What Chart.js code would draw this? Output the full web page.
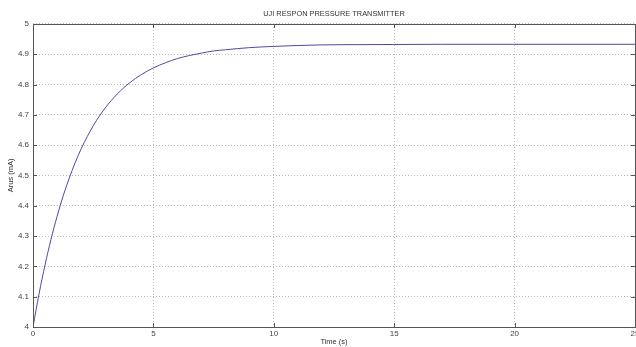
<!DOCTYPE html>
<html>
<head>
<meta charset="utf-8">
<script src="https://cdn.jsdelivr.net/npm/chart.js@4"></script>
<style>
  html, body { margin: 0; padding: 0; background: #fff; overflow: hidden; width: 636px; height: 347px; }
  #wrap { position: relative; width: 650px; height: 347px; }
</style>
</head>
<body>
<div id="wrap"><canvas id="c" width="650" height="347"></canvas></div>
<script>
const titleText = 'UJI RESPON PRESSURE TRANSMITTER';
const xTitle = 'Time (s)';
const yTitle = 'Arus (mA)';
const timeValues = [0, 0.25, 0.5, 0.75, 1, 1.25, 1.5, 1.75, 2, 2.5, 3, 3.5, 4, 4.5, 5, 5.5, 6, 6.5, 7, 7.5, 8, 9, 10, 11, 12, 14, 17, 25];
const currentValues = [4.000, 4.109, 4.205, 4.290, 4.365, 4.432, 4.490, 4.542, 4.588, 4.664, 4.723, 4.769, 4.805, 4.833, 4.855, 4.872, 4.886, 4.896, 4.904, 4.911, 4.915, 4.922, 4.926, 4.929, 4.931, 4.932, 4.933, 4.933];
const xTicks = [0, 5, 10, 15, 20, 25];
const yTicks = [4, 4.1, 4.2, 4.3, 4.4, 4.5, 4.6, 4.7, 4.8, 4.9, 5];

const points = timeValues.map((t, i) => ({ x: t, y: currentValues[i] }));

const framePlugin = {
  id: 'frame',
  afterLayout(chart) {
    const t = chart.titleBlock;
    if (t) {
      t.left = chart.chartArea.left;
      t.right = chart.chartArea.right;
      t.width = t.right - t.left;
    }
  },
  afterDraw(chart) {
    const { ctx, chartArea: a, scales } = chart;
    ctx.save();
    ctx.strokeStyle = '#555';
    ctx.lineWidth = 1;
    ctx.strokeRect(Math.round(a.left) + 0.5, Math.round(a.top) + 0.5, Math.round(a.right - a.left), Math.round(a.bottom - a.top));
    const len = 4;
    ctx.beginPath();
    xTicks.forEach(v => {
      const px = Math.round(scales.x.getPixelForValue(v)) + 0.5;
      ctx.moveTo(px, a.bottom); ctx.lineTo(px, a.bottom - len);
      ctx.moveTo(px, a.top); ctx.lineTo(px, a.top + len);
    });
    yTicks.forEach(v => {
      const py = Math.round(scales.y.getPixelForValue(v)) + 0.5;
      ctx.moveTo(a.left, py); ctx.lineTo(a.left + len, py);
      ctx.moveTo(a.right, py); ctx.lineTo(a.right - len, py);
    });
    ctx.stroke();
    ctx.restore();
  }
};

const fontFamily = 'Liberation Sans, Arial, sans-serif';

new Chart(document.getElementById('c'), {
  type: 'line',
  data: {
    datasets: [{
      data: points,
      borderColor: '#4b4ba3',
      borderWidth: 1,
      pointRadius: 0,
      fill: false,
      cubicInterpolationMode: 'monotone'
    }]
  },
  options: {
    responsive: false,
    animation: false,
    devicePixelRatio: 1,
    layout: { padding: { left: 0, right: 15, top: 0, bottom: 0 } },
    plugins: {
      legend: { display: false },
      tooltip: { enabled: false },
      title: {
        display: true,
        text: titleText,
        color: '#333',
        font: { family: fontFamily, size: 7.4, weight: 'normal' },
        padding: { top: 10, bottom: 5.1 }
      }
    },
    scales: {
      x: {
        type: 'linear',
        min: 0, max: 25,
        afterBuildTicks(s) { s.ticks = xTicks.map(v => ({ value: v })); },
        afterFit(s) { s.height = 20; s.paddingLeft = 0; s.paddingRight = 0; },
        ticks: {
          color: '#444',
          font: { family: fontFamily, size: 8 },
          padding: 2,
          maxRotation: 0,
          autoSkip: false
        },
        grid: { color: '#b8b8b8', drawTicks: false, lineWidth: 1 },
        border: { display: false, dash: [1, 2] },
        title: {
          display: true, text: xTitle, color: '#333',
          font: { family: fontFamily, size: 7.5 },
          padding: { top: 0, bottom: 1 }
        }
      },
      y: {
        type: 'linear',
        min: 4, max: 5,
        afterBuildTicks(s) { s.ticks = yTicks.map(v => ({ value: v })); },
        afterFit(s) { s.width = 33; s.paddingTop = 0; s.paddingBottom = 0; },
        ticks: {
          color: '#444',
          font: { family: fontFamily, size: 8 },
          padding: 4,
          autoSkip: false,
          callback: v => String(Math.round(v * 10) / 10)
        },
        grid: { color: '#b8b8b8', drawTicks: false, lineWidth: 1 },
        border: { display: false, dash: [1, 2] },
        title: {
          display: true, text: yTitle, color: '#333',
          font: { family: fontFamily, size: 7.5 },
          padding: { top: 6, bottom: 0 }
        }
      }
    }
  },
  plugins: [framePlugin]
});
</script>
</body>
</html>
